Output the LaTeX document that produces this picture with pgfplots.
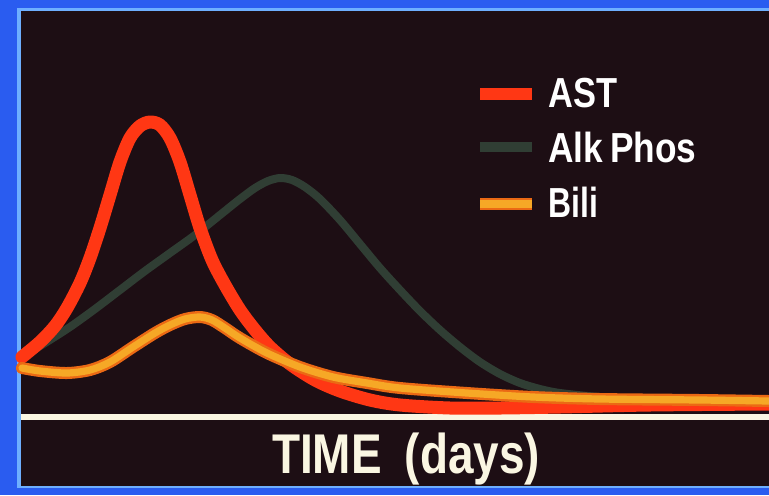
\documentclass[border=0pt]{standalone}
\usepackage{pgfplots}
\pgfplotsset{compat=1.18}
\usepackage{fontspec}
\setmainfont{Liberation Sans}

\definecolor{slideblue}{RGB}{42,92,240}
\definecolor{edgeblue}{RGB}{110,175,255}
\definecolor{slidebg}{RGB}{29,14,20}
\definecolor{astred}{RGB}{255,55,20}
\definecolor{alkgreen}{RGB}{48,62,52}
\definecolor{biliorange}{RGB}{246,168,38}
\definecolor{biliedge}{RGB}{235,105,20}
\definecolor{axiswhite}{RGB}{250,246,226}

% curves (x: pixels from left, y: pixels up from bottom)
\pgfplotstableread{
x y
22 138
40 153
55 169
67 187
80 212
90 237
100 267
110 300
120 333
130 357
140 369
150 373
160 370
170 357
180 333
190 300
200 267
212 235
225 210
240 185
255 165
270 148
290 131
315 115
340 104
370 95
400 90
450 87
500 87
560 88
650 90
769 91
}\ast

\pgfplotstableread{
x y
22 138
45 152
70 168
95 186
120 205
145 224
170 242
195 260
220 280
240 296
255 307
268 314
280 317
292 315
305 308
320 296
340 275
360 251
380 227
400 205
420 184
440 165
460 148
480 133
500 121
520 112
540 106
560 102
600 98
650 96
769 95
}\alk

\pgfplotstableread{
x y
22 127
40 124
67 122
90 125
110 133
133 148
155 162
170 170
185 176
200 178
212 175
225 167
240 157
267 142
300 128
333 118
367 112
400 107
467 102
533 98
600 96
700 95
769 94
}\bili

\begin{document}
\begin{tikzpicture}
\begin{axis}[
    x=0.5pt, y=0.5pt,
    xmin=0, xmax=769, ymin=0, ymax=495,
    hide axis,
    line cap=round, line join=round,
]
% slide frame and background
\fill[slideblue] (axis cs:0,0) rectangle (axis cs:769,495);
\fill[edgeblue] (axis cs:17,7) rectangle (axis cs:769,487);
\fill[slidebg] (axis cs:21,9) rectangle (axis cs:769,484);

% time axis
\addplot[axiswhite, line width=3pt, line cap=butt] coordinates {(21,78) (769,78)};

\addplot[alkgreen, line width=4pt, smooth] table {\alk};
\addplot[astred, line width=6.5pt, smooth] table {\ast};
\addplot[biliedge, line width=6pt, smooth] table {\bili};
\addplot[biliorange, line width=3.6pt, smooth] table {\bili};

% legend
\addplot[astred, line width=6pt, line cap=butt] coordinates {(480,401) (532,401)};
\addplot[alkgreen, line width=5pt, line cap=butt] coordinates {(480,348) (532,348)};
\addplot[biliedge, line width=6pt, line cap=butt] coordinates {(480,291) (532,291)};
\addplot[biliorange, line width=3.6pt, line cap=butt] coordinates {(480,291) (532,291)};

\node[anchor=base west, text=white, inner sep=0pt, font=\bfseries\fontsize{21}{24}\selectfont]
    at (axis cs:548,388) {\scalebox{0.82}[1]{AST}};
\node[anchor=base west, text=white, inner sep=0pt, font=\bfseries\fontsize{21}{24}\selectfont]
    at (axis cs:548,333) {\scalebox{0.84}[1]{Alk\hspace{4pt}Phos}};
\node[anchor=base west, text=white, inner sep=0pt, font=\bfseries\fontsize{21}{24}\selectfont]
    at (axis cs:548,278) {\scalebox{0.76}[1]{Bili}};

\node[anchor=base, text=axiswhite, inner sep=0pt, font=\bfseries\fontsize{28}{32}\selectfont]
    at (axis cs:406,22) {\scalebox{0.82}[1]{TIME\hspace{14pt}(days)}};
\end{axis}
\end{tikzpicture}
\end{document}
